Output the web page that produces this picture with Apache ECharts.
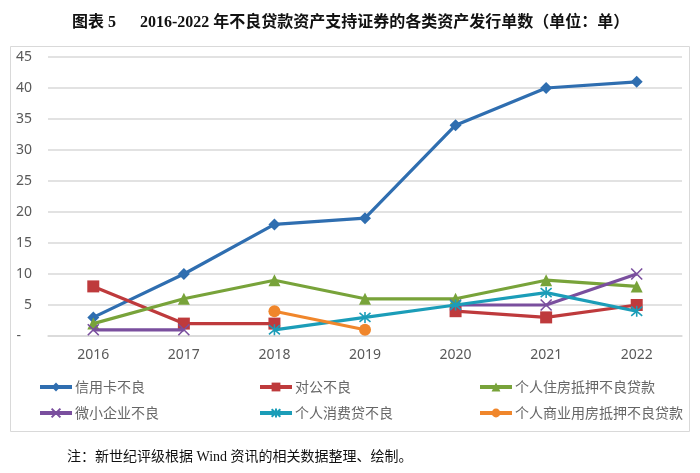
<!DOCTYPE html>
<html>
<head>
<meta charset="utf-8">
<script src="https://cdn.jsdelivr.net/npm/echarts@6/dist/echarts.min.js"></script>
<style>html,body{margin:0;padding:0;background:#fff;}#c{width:700px;height:473px;}</style>
</head>
<body>
<div id="c"></div>
<script>
var years = ['2016','2017','2018','2019','2020','2021','2022'];
var seriesNames = ['信用卡不良','对公不良','个人住房抵押不良贷款','微小企业不良','个人消费贷不良','个人商业用房抵押不良贷款'];
var creditCard = [3, 10, 18, 19, 34, 40, 41];
var corporate = [8, 2, 2, null, 4, 3, 5];
var housing = [2, 6, 9, 6, 6, 9, 8];
var microSmall = [1, 1, null, null, 5, 5, 10];
var consumer = [null, null, 1, 3, 5, 7, 4];
var commercialHousing = [null, null, 4, 1, null, null, null];
var yTicks = [0, 5, 10, 15, 20, 25, 30, 35, 40, 45];

var colors = ['#2F6EB0', '#BE3A3C', '#78A33A', '#7A4F9E', '#1B9DB8', '#F0862B'];
var symbols = ['diamond', 'rect', 'triangle',
  'path://M0,0L10,10M10,0L0,10',
  'path://M0,0L10,10M10,0L0,10M5,-1L5,11',
  'circle'];
var sizes = [12, 12, 12, 11, 11, 12];
var datas = [creditCard, corporate, housing, microSmall, consumer, commercialHousing];
var serif = "'Liberation Serif','Noto Sans CJK SC'";
var txtFont = "'Noto Sans CJK SC','Noto Sans'";

var series = seriesNames.map(function(n, i){
  var isPath = i === 3 || i === 4;
  return {
    name: n, type: 'line', data: datas[i],
    symbol: symbols[i], symbolSize: sizes[i],
    showAllSymbol: true,
    lineStyle: {color: colors[i], width: 3.2},
    itemStyle: isPath ? {color: colors[i], borderColor: colors[i], borderWidth: 1.6} : {color: colors[i], borderWidth: 0},
    emphasis: {disabled: true},
    z: 2 + i
  };
});

var legendPos = [[33,375],[253,375],[473,375],[33,401],[253,401],[473,401]];
var legends = seriesNames.map(function(n, i){
  return {
    data: [n], left: legendPos[i][0], top: legendPos[i][1],
    itemWidth: 32, itemHeight: 11, itemGap: 0,
    selectedMode: false,
    lineStyle: {width: 4},
    textStyle: {color: '#666', fontSize: 14, fontFamily: txtFont, padding: [0,0,0,-2]}
  };
});

var chart = echarts.init(document.getElementById('c'), null, {renderer: 'canvas'});
chart.setOption({
  animation: false,
  backgroundColor: '#fff',
  title: {
    text: '图表 5      2016-2022 年不良贷款资产支持证券的各类资产发行单数（单位：单）',
    left: 67, top: 10,
    textStyle: {fontSize: 16, fontWeight: 'bold', color: '#111', fontFamily: serif}
  },
  graphic: [
    {type: 'rect', shape: {x: 10.5, y: 46.5, width: 679, height: 385},
     style: {fill: 'none', stroke: '#d9d9d9', lineWidth: 1}, z: -1},
    {type: 'text', left: 67, top: 450,
     style: {text: '注：新世纪评级根据 Wind 资讯的相关数据整理、绘制。', fontSize: 14, fill: '#111', fontFamily: serif}}
  ],
  legend: legends,
  grid: {left: 48, right: 18, top: 57, bottom: 137, containLabel: false},
  xAxis: {
    type: 'category', data: years, boundaryGap: true,
    axisLine: {show: true, lineStyle: {color: '#d9d9d9', width: 1.5}},
    axisTick: {show: false},
    axisLabel: {color: '#595959', fontSize: 14, margin: 12, fontFamily: "'Noto Sans','DejaVu Sans'"}
  },
  yAxis: {
    type: 'value', min: 0, max: 45, interval: 5,
    axisLine: {show: false}, axisTick: {show: false},
    splitLine: {lineStyle: {color: '#d9d9d9', width: 1.5}},
    axisLabel: {color: '#595959', fontSize: 14, margin: 16, fontFamily: "'Noto Sans','DejaVu Sans'",
      formatter: function(v){ return v === 0 ? '-   ' : String(v); }}
  },
  series: series
});
</script>
</body>
</html>
